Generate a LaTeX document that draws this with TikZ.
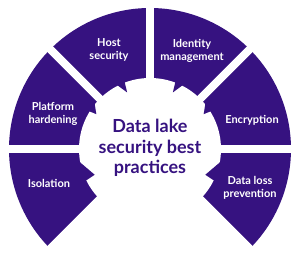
\documentclass[tikz,border=0pt]{standalone}
\usepackage{fontspec}
\setmainfont{Lato}
\definecolor{lakepurple}{RGB}{54,18,128}
\begin{document}
\begin{tikzpicture}[x=1pt,y=1pt,
  seg/.style={fill=lakepurple, draw=none},
  gapline/.style={draw=white, line width=8pt},
  lbl/.style={text=white, font=\bfseries\fontsize{11}{12.5}\selectfont, align=center, inner sep=0pt},
  ctr/.style={text=lakepurple, font=\bfseries\fontsize{18}{20.5}\selectfont, align=center, inner sep=0pt}]
\fill[white] (-150,-104) rectangle (150,149);
\useasboundingbox (-150,-104) rectangle (150,149);
\coordinate (O) at (0,0);
% segments
\foreach \a in {-45,0,45,90,135,180}
  \fill[seg] (O) -- (\a:141) arc[start angle=\a, end angle=\a+45, radius=141] -- cycle;
% gaps
\foreach \a in {-45,0,45,90,135,180,225}
  \draw[gapline] (O) -- (\a:150);
% gear
\fill[white] (O) circle[radius=71];
\fill[seg] (110.5:74) -- (112:61) -- (118:74) -- cycle;
\fill[seg] (69.5:74) -- (68:61) -- (62:74) -- cycle;
\fill[seg] (31.5:74) -- (33:64) -- (41:74) -- cycle;
\fill[seg] (148.5:74) -- (147:64) -- (139:74) -- cycle;
\fill[seg] (-26.5:74) -- (-25:61) -- (-10:72) -- cycle;
\fill[seg] (206.5:74) -- (205:61) -- (190:72) -- cycle;
% labels
\node[lbl] (host) at (-41,99) {Host\\security};
\node[lbl] (ident) at (42,98) {Identity\\management};
\node[lbl] (plat) at (-97,35) {Platform\\hardening};
\node[lbl] (encr) at (102,29) {Encryption};
\node[lbl] (isol) at (-101,-34) {Isolation};
\node[lbl] (dlp) at (100,-39) {Data loss\\prevention};
\node[ctr] (title) at (0,1) {Data lake\\security best\\practices};
\end{tikzpicture}
\end{document}
